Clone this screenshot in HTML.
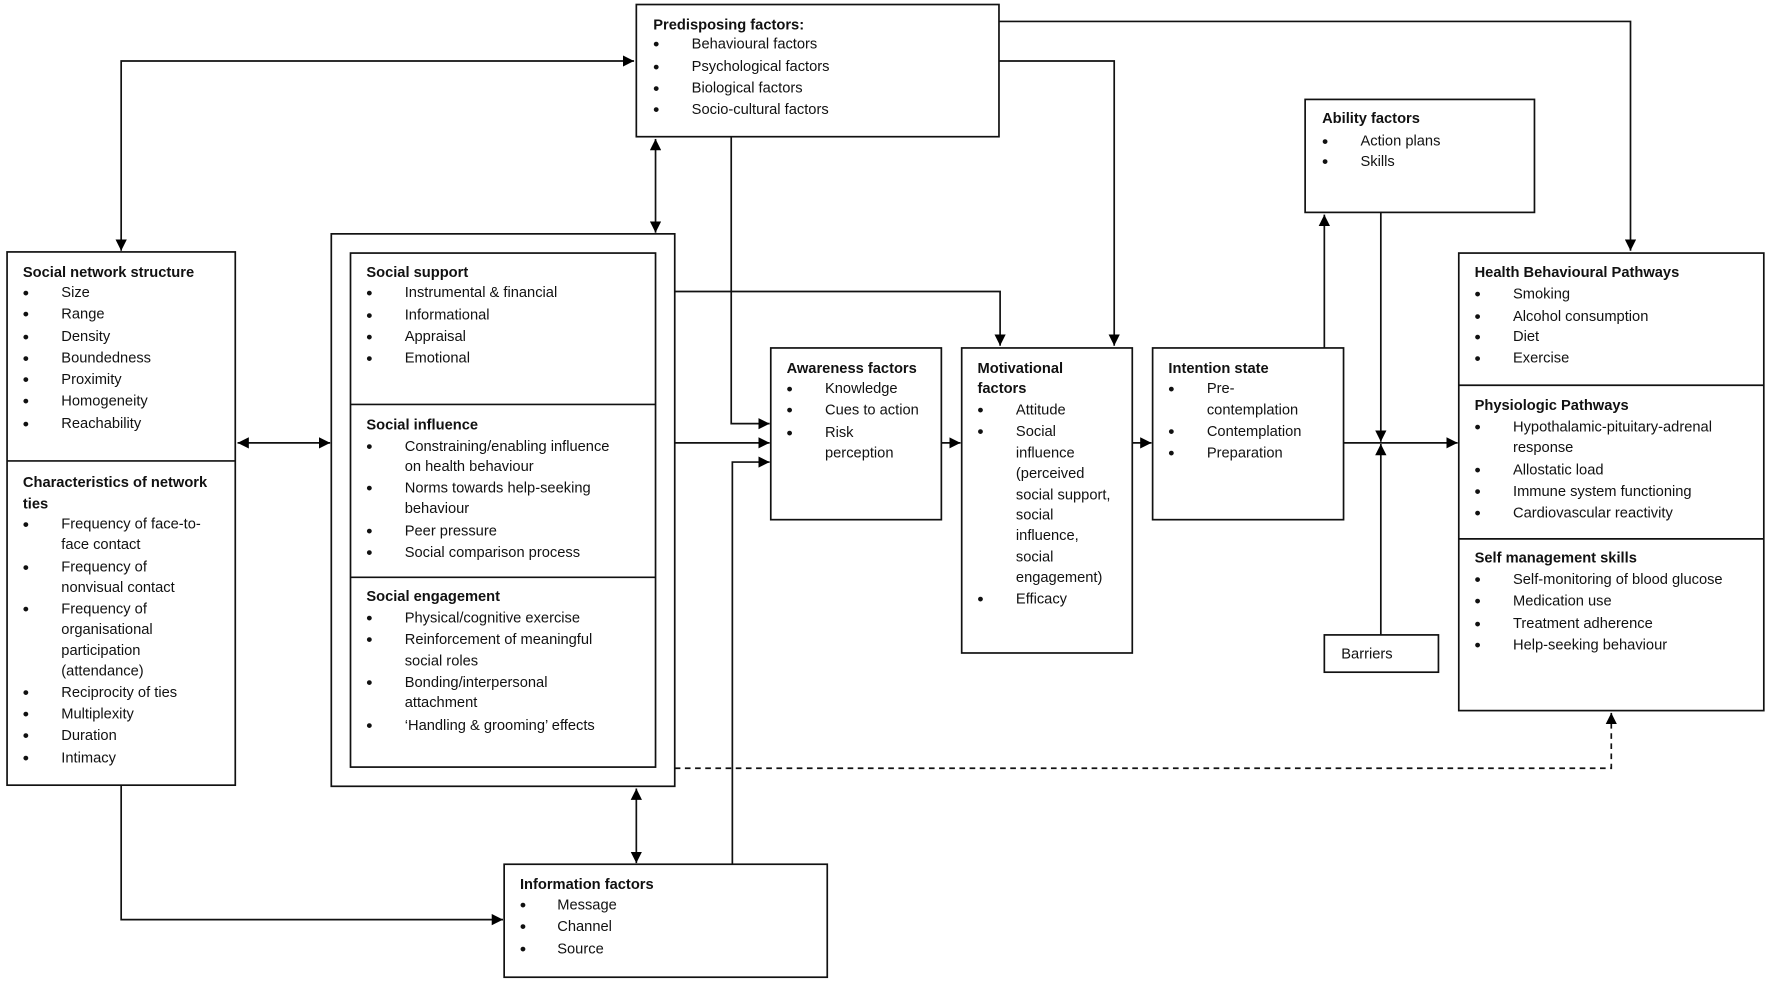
<!DOCTYPE html>
<html><head><meta charset="utf-8"><style>
html,body{margin:0;padding:0;background:#fff;}
svg{display:block;}
text{font-family:"Liberation Sans",sans-serif;font-size:13px;fill:#111;}
.b{font-weight:bold;}
.d{font-size:15px;font-weight:bold;}
</style></head><body>
<svg width="1772" height="984" viewBox="0 0 1568 871" xmlns="http://www.w3.org/2000/svg">
<defs>
<marker id="a" viewBox="0 0 10 10" refX="10" refY="5" markerWidth="10" markerHeight="10" orient="auto-start-reverse" markerUnits="userSpaceOnUse"><path d="M0,0 L10,5 L0,10 z" fill="#000"/></marker>
</defs>
<g fill="none" stroke="#111" stroke-width="1.5">
<rect x="563" y="4" width="321" height="117"/>
<rect x="1155" y="88" width="203" height="100"/>
<rect x="6" y="223" width="202" height="472"/><line x1="6" y1="408" x2="208" y2="408"/>
<rect x="293" y="207" width="304" height="489"/>
<rect x="310" y="224" width="270" height="455"/><line x1="310" y1="358" x2="580" y2="358"/><line x1="310" y1="511" x2="580" y2="511"/>
<rect x="682" y="308" width="151" height="152"/>
<rect x="851" y="308" width="151" height="270"/>
<rect x="1020" y="308" width="169" height="152"/>
<rect x="1291" y="224" width="270" height="405"/><line x1="1291" y1="341" x2="1561" y2="341"/><line x1="1291" y1="477" x2="1561" y2="477"/>
<rect x="1172" y="562" width="101" height="33"/>
<rect x="446" y="765" width="286" height="100"/>
<polyline points="884,19 1443,19 1443,222" marker-end="url(#a)"/>
<polyline points="884,54 986,54 986,306" marker-end="url(#a)"/>
<polyline points="107,222 107,54 561,54" marker-start="url(#a)" marker-end="url(#a)"/>
<line x1="580" y1="123" x2="580" y2="206" marker-start="url(#a)" marker-end="url(#a)"/>
<polyline points="647,121 647,375 681,375" marker-end="url(#a)"/>
<polyline points="597,258 885,258 885,306" marker-end="url(#a)"/>
<line x1="597" y1="392" x2="681" y2="392" marker-end="url(#a)"/>
<polyline points="648,765 648,409 681,409" marker-end="url(#a)"/>
<line x1="210" y1="392" x2="292" y2="392" marker-start="url(#a)" marker-end="url(#a)"/>
<polyline points="107,695 107,814 445,814" marker-end="url(#a)"/>
<line x1="563" y1="764" x2="563" y2="698" marker-start="url(#a)" marker-end="url(#a)"/>
<line x1="833" y1="392" x2="850" y2="392" marker-end="url(#a)"/>
<line x1="1002" y1="392" x2="1019" y2="392" marker-end="url(#a)"/>
<line x1="1189" y1="392" x2="1290" y2="392" marker-end="url(#a)"/>
<line x1="1172" y1="308" x2="1172" y2="190" marker-end="url(#a)"/>
<line x1="1222" y1="188" x2="1222" y2="391" marker-end="url(#a)"/>
<line x1="1222" y1="562" x2="1222" y2="393" marker-end="url(#a)"/>
<polyline points="597,680 1426,680 1426,631" stroke-dasharray="5,4" marker-end="url(#a)"/>
</g>
<g>
<text class="b" x="578" y="26">Predisposing factors:</text>
<text class="d" x="578" y="44">•</text><text x="612" y="43">Behavioural factors</text>
<text class="d" x="578" y="64">•</text><text x="612" y="63">Psychological factors</text>
<text class="d" x="578" y="83">•</text><text x="612" y="82">Biological factors</text>
<text class="d" x="578" y="102">•</text><text x="612" y="101">Socio-cultural factors</text>

<text class="b" x="1170" y="109">Ability factors</text>
<text class="d" x="1170" y="130">•</text><text x="1204" y="129">Action plans</text>
<text class="d" x="1170" y="148">•</text><text x="1204" y="147">Skills</text>

<text class="b" x="20" y="245">Social network structure</text>
<text class="d" x="20" y="264">•</text><text x="54" y="263">Size</text>
<text class="d" x="20" y="283">•</text><text x="54" y="282">Range</text>
<text class="d" x="20" y="303">•</text><text x="54" y="302">Density</text>
<text class="d" x="20" y="322">•</text><text x="54" y="321">Boundedness</text>
<text class="d" x="20" y="341">•</text><text x="54" y="340">Proximity</text>
<text class="d" x="20" y="360">•</text><text x="54" y="359">Homogeneity</text>
<text class="d" x="20" y="380">•</text><text x="54" y="379">Reachability</text>
<text class="b" x="20" y="431">Characteristics of network</text>
<text class="b" x="20" y="450">ties</text>
<text class="d" x="20" y="469">•</text><text x="54" y="468">Frequency of face-to-</text><text x="54" y="486">face contact</text>
<text class="d" x="20" y="507">•</text><text x="54" y="506">Frequency of</text><text x="54" y="524">nonvisual contact</text>
<text class="d" x="20" y="544">•</text><text x="54" y="543">Frequency of</text><text x="54" y="561">organisational</text><text x="54" y="580">participation</text><text x="54" y="598">(attendance)</text>
<text class="d" x="20" y="618">•</text><text x="54" y="617">Reciprocity of ties</text>
<text class="d" x="20" y="637">•</text><text x="54" y="636">Multiplexity</text>
<text class="d" x="20" y="656">•</text><text x="54" y="655">Duration</text>
<text class="d" x="20" y="676">•</text><text x="54" y="675">Intimacy</text>

<text class="b" x="324" y="245">Social support</text>
<text class="d" x="324" y="264">•</text><text x="358" y="263">Instrumental &amp; financial</text>
<text class="d" x="324" y="284">•</text><text x="358" y="283">Informational</text>
<text class="d" x="324" y="303">•</text><text x="358" y="302">Appraisal</text>
<text class="d" x="324" y="322">•</text><text x="358" y="321">Emotional</text>
<text class="b" x="324" y="380">Social influence</text>
<text class="d" x="324" y="400">•</text><text x="358" y="399">Constraining/enabling influence</text><text x="358" y="417">on health behaviour</text>
<text class="d" x="324" y="437">•</text><text x="358" y="436">Norms towards help-seeking</text><text x="358" y="454">behaviour</text>
<text class="d" x="324" y="475">•</text><text x="358" y="474">Peer pressure</text>
<text class="d" x="324" y="494">•</text><text x="358" y="493">Social comparison process</text>
<text class="b" x="324" y="532">Social engagement</text>
<text class="d" x="324" y="552">•</text><text x="358" y="551">Physical/cognitive exercise</text>
<text class="d" x="324" y="571">•</text><text x="358" y="570">Reinforcement of meaningful</text><text x="358" y="589">social roles</text>
<text class="d" x="324" y="609">•</text><text x="358" y="608">Bonding/interpersonal</text><text x="358" y="626">attachment</text>
<text class="d" x="324" y="647">•</text><text x="358" y="646">‘Handling &amp; grooming’ effects</text>

<text class="b" x="696" y="330">Awareness factors</text>
<text class="d" x="696" y="349">•</text><text x="730" y="348">Knowledge</text>
<text class="d" x="696" y="368">•</text><text x="730" y="367">Cues to action</text>
<text class="d" x="696" y="388">•</text><text x="730" y="387">Risk</text><text x="730" y="405">perception</text>

<text class="b" x="865" y="330">Motivational</text>
<text class="b" x="865" y="348">factors</text>
<text class="d" x="865" y="368">•</text><text x="899" y="367">Attitude</text>
<text class="d" x="865" y="387">•</text><text x="899" y="386">Social</text>
<text x="899" y="405">influence</text><text x="899" y="423">(perceived</text><text x="899" y="442">social support,</text><text x="899" y="460">social</text><text x="899" y="478">influence,</text><text x="899" y="497">social</text><text x="899" y="515">engagement)</text>
<text class="d" x="865" y="535">•</text><text x="899" y="534">Efficacy</text>

<text class="b" x="1034" y="330">Intention state</text>
<text class="d" x="1034" y="349">•</text><text x="1068" y="348">Pre-</text><text x="1068" y="367">contemplation</text>
<text class="d" x="1034" y="387">•</text><text x="1068" y="386">Contemplation</text>
<text class="d" x="1034" y="406">•</text><text x="1068" y="405">Preparation</text>

<text class="b" x="1305" y="245">Health Behavioural Pathways</text>
<text class="d" x="1305" y="265">•</text><text x="1339" y="264">Smoking</text>
<text class="d" x="1305" y="285">•</text><text x="1339" y="284">Alcohol consumption</text>
<text class="d" x="1305" y="303">•</text><text x="1339" y="302">Diet</text>
<text class="d" x="1305" y="322">•</text><text x="1339" y="321">Exercise</text>
<text class="b" x="1305" y="363">Physiologic Pathways</text>
<text class="d" x="1305" y="383">•</text><text x="1339" y="382">Hypothalamic-pituitary-adrenal</text><text x="1339" y="400">response</text>
<text class="d" x="1305" y="421">•</text><text x="1339" y="420">Allostatic load</text>
<text class="d" x="1305" y="440">•</text><text x="1339" y="439">Immune system functioning</text>
<text class="d" x="1305" y="459">•</text><text x="1339" y="458">Cardiovascular reactivity</text>
<text class="b" x="1305" y="498">Self management skills</text>
<text class="d" x="1305" y="518">•</text><text x="1339" y="517">Self-monitoring of blood glucose</text>
<text class="d" x="1305" y="537">•</text><text x="1339" y="536">Medication use</text>
<text class="d" x="1305" y="557">•</text><text x="1339" y="556">Treatment adherence</text>
<text class="d" x="1305" y="576">•</text><text x="1339" y="575">Help-seeking behaviour</text>

<text x="1187" y="583">Barriers</text>

<text class="b" x="460" y="787">Information factors</text>
<text class="d" x="460" y="806">•</text><text x="493" y="805">Message</text>
<text class="d" x="460" y="825">•</text><text x="493" y="824">Channel</text>
<text class="d" x="460" y="845">•</text><text x="493" y="844">Source</text>
</g>
</svg>
</body></html>
